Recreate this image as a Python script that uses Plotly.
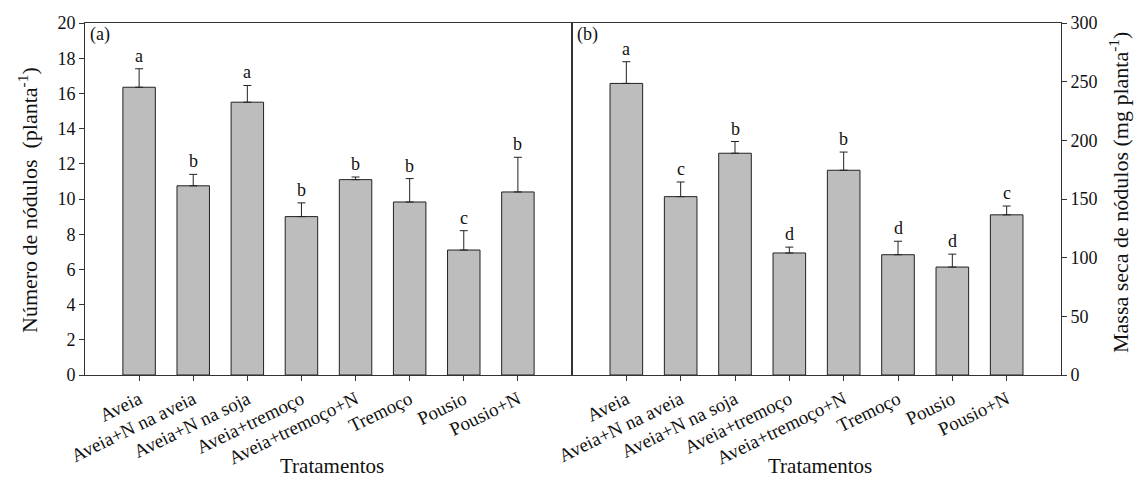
import plotly.graph_objects as go

categorias = ["Aveia", "Aveia+N na aveia", "Aveia+N na soja", "Aveia+tremoço",
              "Aveia+tremoço+N", "Tremoço", "Pousio", "Pousio+N"]

num_nodulos = [16.35, 10.75, 15.5, 9.0, 11.1, 9.83, 7.1, 10.4]
num_erro = [1.05, 0.65, 0.95, 0.78, 0.15, 1.33, 1.1, 1.97]
num_letras = ["a", "b", "a", "b", "b", "b", "c", "b"]

massa_seca = [248.5, 152.0, 189.0, 104.0, 174.5, 102.5, 92.0, 136.5]
massa_erro = [18.5, 12.5, 10.0, 5.0, 15.5, 11.5, 11.0, 7.5]
massa_letras = ["a", "c", "b", "d", "b", "d", "d", "c"]

FONT = "Liberation Serif"
BAR = "#bdbdbd"
EDGE = "#222222"
TXT = "#111111"

W, H = 1135, 482
L, R, T, B = 85, 1061, 23, 375  # plot area in pixels
PW, PH = R - L, B - T
MID = 572

def px(xp):
    return (xp - L) / PW

def py(yp):
    return (B - yp) / PH

xs = list(range(len(categorias)))

fig = go.Figure()

def add_panel(vals, errs, letters, xa, ya):
    fig.add_trace(go.Bar(
        x=xs, y=vals, width=0.6, xaxis=xa, yaxis=ya,
        marker=dict(color=BAR, line=dict(color=EDGE, width=1)),
        error_y=dict(type="data", array=errs, arrayminus=[0] * len(errs),
                     symmetric=False, color=EDGE, thickness=1, width=4),
        showlegend=False, hoverinfo="skip"))
    for x, v, e, t in zip(xs, vals, errs, letters):
        fig.add_annotation(x=x, y=v + e, xref=xa, yref=ya, text=t,
                           showarrow=False, yanchor="bottom", yshift=1,
                           font=dict(family=FONT, size=18, color=TXT))

add_panel(num_nodulos, num_erro, num_letras, "x", "y")
add_panel(massa_seca, massa_erro, massa_letras, "x2", "y2")

axis_common = dict(showline=True, linecolor="#333", linewidth=1, mirror=True,
                   ticks="outside", ticklen=5, tickcolor="#333", showgrid=False,
                   zeroline=False, automargin=False)
ytick = dict(family=FONT, size=18, color=TXT)
xtick = dict(family=FONT, size=19, color=TXT)

fig.update_layout(
    width=W, height=H,
    margin=dict(l=L, r=W - R, t=T, b=H - B, pad=0),
    paper_bgcolor="white", plot_bgcolor="white",
    font=dict(family=FONT, color=TXT),
    xaxis=dict(domain=[0, px(MID)], range=[-1, 8],
               tickmode="array", tickvals=xs, ticktext=categorias,
               tickangle=-26, anchor="y", tickfont=xtick, **axis_common),
    yaxis=dict(domain=[0, 1], range=[0, 20], dtick=2, anchor="x", tickfont=ytick,
               **axis_common),
    xaxis2=dict(domain=[px(MID), 1], range=[-1, 8],
                tickmode="array", tickvals=xs, ticktext=categorias,
                tickangle=-26, anchor="y2", tickfont=xtick, **axis_common),
    yaxis2=dict(domain=[0, 1], range=[0, 300], dtick=50, anchor="x2", side="right",
                tickfont=ytick, **axis_common),
)

def note(text, x, y, size, angle=0, xanchor="center", yanchor="middle"):
    fig.add_annotation(text=text, xref="paper", yref="paper", x=x, y=y,
                       xanchor=xanchor, yanchor=yanchor, showarrow=False,
                       textangle=angle, font=dict(family=FONT, size=size, color=TXT))

note("(a)", px(88), py(34), 18, xanchor="left")
note("(b)", px(575), py(34), 18, xanchor="left")
note("Tratamentos", px((L + MID) / 2 + 3), py(466), 21)
note("Tratamentos", px((MID + R) / 2 + 3), py(466), 21)
note("Número de nódulos  (planta<sup>-1</sup>)", px(28), py(200), 22, angle=-90)
note("Massa seca de nódulos (mg planta<sup>-1</sup>)", px(1119), py(193), 22, angle=-90)

fig.write_html(
    "out.html",
    config={"displayModeBar": False},
    post_script="document.body.style.margin='0';document.body.style.overflow='hidden';",
)
